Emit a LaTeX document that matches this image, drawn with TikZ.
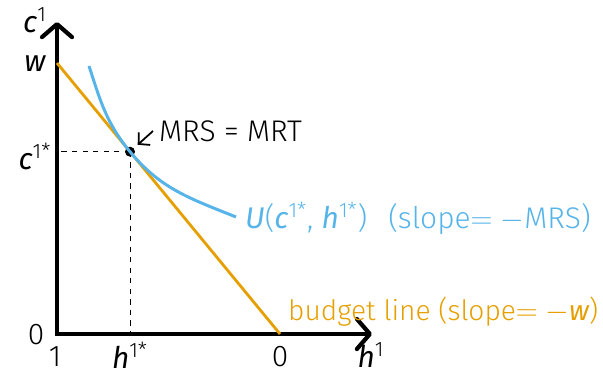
\documentclass[tikz,border=0pt]{standalone}
\usepackage{fontspec}
\setmainfont{Fira Sans Light}
\newfontfamily\varfont{Fira Sans}
\usetikzlibrary{arrows.meta}
\definecolor{budget}{HTML}{E69F00}
\definecolor{indiff}{HTML}{56B4E9}
\newcommand{\var}[1]{{\varfont\itshape #1}}
\newcommand{\upr}[1]{\textsuperscript{#1}}
\begin{document}
\begin{tikzpicture}[font=\fontsize{17}{20}\selectfont,
    axis/.style={line width=2pt,{Straight Barb[length=2.6mm,width=6mm,line width=2.4pt,round]}-{Straight Barb[length=2.6mm,width=6mm,line width=2.4pt,round]}},
    budgetline/.style={budget,line width=1.6pt},
    indiffcurve/.style={indiff,line width=1.7pt},
    guide/.style={dashed,line width=0.5pt}]
    \useasboundingbox (-1.14,-0.82) rectangle (10.92,6.68);
    \coordinate (O) at (0,0);
    \draw[axis] (0,6.24) -- (O) -- (6.3,0);
    \node (lblc) at (-0.44,6.28) {\var{c}\upr{1}};
    \node (lblw) at (-0.44,5.4) {\var{w}};
    \node (lblcs) at (-0.44,3.56) {\var{c}\upr{1*}};
    \node (lblzero) at (-0.42,-0.02) {0};
    \node (lblone) at (-0.04,-0.45) {1};
    \node (lblhs) at (1.46,-0.43) {\var{h}\upr{1*}};
    \node (lblend) at (4.46,-0.45) {0};
    \node (lblh) at (6.28,-0.43) {\var{h}\upr{1}};
    \draw[budgetline] (0,5.42) -- (4.46,0);
    \node[circle,fill,inner sep=0pt,minimum size=0.2cm] (opt) at (1.46,3.646) {};
    \draw[guide] (opt.center) -- (opt.center -| O);
    \draw[guide] (opt.center) -- (opt.center |- O);
    \draw[indiffcurve] (0.64,5.36) to[out=-72,in=129.5] (opt.center)
        to[out=-50.5,in=158] (3.58,2.34) coordinate (uend);
    \node[anchor=west] (mrs) at (1.92,4.06) {MRS = MRT};
    \draw[line width=1pt,-{Straight Barb[length=1.6mm,width=3.4mm]},shorten >=0.1cm] (mrs.west) -- (opt);
    \node[anchor=west,text=indiff] (ulbl) at (3.64,2.32)
        {\var{U}(\var{c}\upr{1*}, \var{h}\upr{1*})\hspace{0.7em}(slope$=$\ $-$MRS)};
    \node[anchor=west,text=budget,font=\fontsize{16}{19}\selectfont] (blbl) at (4.5,0.44)
        {budget line (slope$=$\ $-$\var{w})};
\end{tikzpicture}
\end{document}
